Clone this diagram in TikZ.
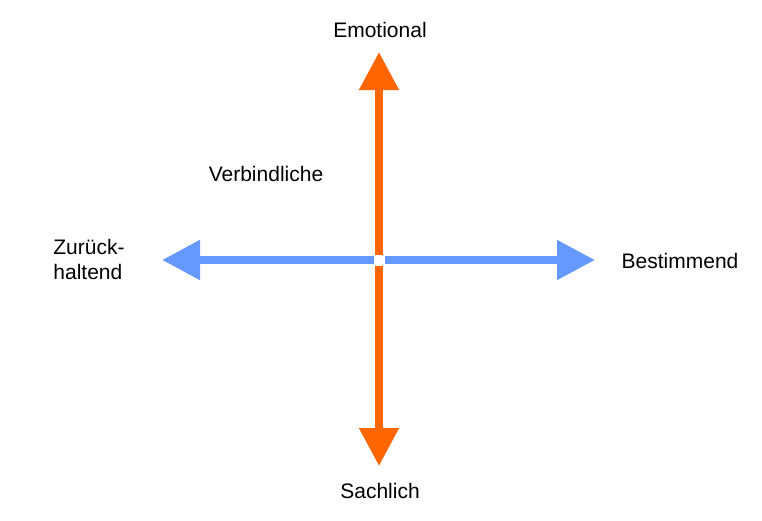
\documentclass[tikz,border=0pt]{standalone}
\usepackage{fontspec}
\setmainfont{Liberation Sans}
\usetikzlibrary{arrows.meta}
\definecolor{ora}{HTML}{FF6600}
\definecolor{blu}{HTML}{6699FF}
\begin{document}
\begin{tikzpicture}[x=1pt,y=-1pt,
  ax/.style={line width=8pt,{Triangle[length=38pt,width=38pt]}-{Triangle[length=38pt,width=38pt]}},
  lbl/.style={font=\fontsize{21}{25}\selectfont,inner sep=0pt}]
\useasboundingbox (0,0) rectangle (762,520);
\coordinate (L) at (162,260);
\coordinate (R) at (595,260);
\coordinate (T) at (379,52);
\coordinate (B) at (379,466);
\draw[ax,blu] (L) -- (R);
\draw[ax,ora] (T) -- (B);
\node[fill=white,minimum size=11pt,inner sep=0pt] (c) at (379.5,260.5) {};
\node[lbl] (e) at (380,30) {Emotional};
\node[lbl] (v) at (266,174) {Verbindliche};
\node[lbl,align=left] (z) at (89,259) {Zurück-\\haltend};
\node[lbl] (b) at (680,261) {Bestimmend};
\node[lbl] (s) at (380,491) {Sachlich};
\end{tikzpicture}
\end{document}
